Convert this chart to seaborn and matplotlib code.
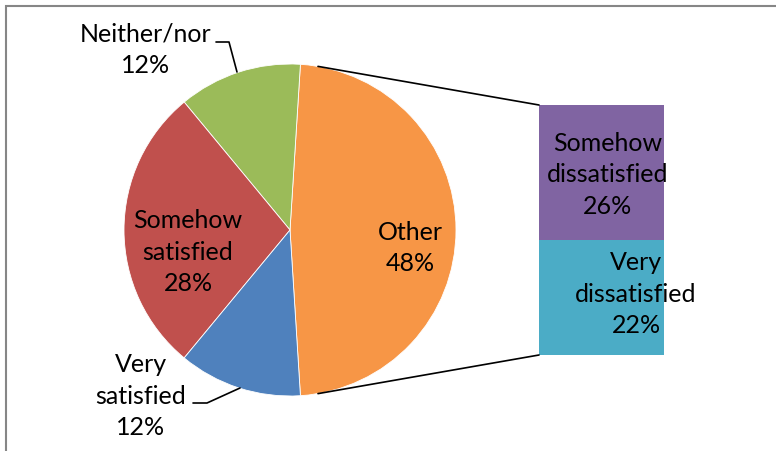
import numpy as np
import matplotlib
matplotlib.use("Agg")
import matplotlib.pyplot as plt
import seaborn as sns
from matplotlib.patches import Rectangle

# Pie data (Other = sum of the bar pieces)
pie_labels = ["Other", "Neither/nor", "Somehow\nsatisfied", "Very\nsatisfied"]
pie_values = [48, 12, 28, 12]
pie_colors = ["#F79646", "#9BBB59", "#C0504D", "#4F81BD"]

# Bar-of-pie data (bottom to top)
bar_labels = ["Very\ndissatisfied", "Somehow\ndissatisfied"]
bar_values = [22, 26]
bar_colors = ["#4BACC6", "#8064A2"]

sns.set_theme(style="white")
plt.rcParams['font.family'] = ['Lato', 'DejaVu Sans']

fig = plt.figure(figsize=(7.76, 4.51), dpi=100)
ax = fig.add_axes([0, 0, 1, 1])

# pie
cx, cy, r = 290, 221, 166
start = -pie_values[0] / 100 * 360 / 2
ax.pie(pie_values, colors=pie_colors, startangle=start, counterclock=True,
       center=(cx, cy), radius=r, frame=True,
       wedgeprops=dict(edgecolor='white', linewidth=0.6))
ax.set_xlim(0, 776)
ax.set_ylim(0, 451)
ax.set_aspect('equal')
ax.axis('off')

# stacked bar
scale = 250 / sum(bar_values)
bar_left, bar_w, bar_bottom = 539, 125, 96
bottom = bar_bottom
for v, c in zip(bar_values, bar_colors):
    ax.bar(bar_left + bar_w / 2, v * scale, width=bar_w, bottom=bottom,
           color=c, edgecolor='none')
    bottom += v * scale

# connector lines
a = np.deg2rad(80.3)
top_bar = bar_bottom + sum(bar_values) * scale
ax.plot([cx + r * np.cos(a), bar_left], [cy + r * np.sin(a), top_bar],
        color='black', lw=1.2)
ax.plot([cx + r * np.cos(a), bar_left], [cy - r * np.sin(a), bar_bottom],
        color='black', lw=1.2)

fs = 18
def lab(x, y, name, val):
    ax.text(x, y, f"{name}\n{val}%", ha='center', va='center',
            multialignment='center', fontsize=fs, color='black',
            linespacing=1.45)

lab(410, 203, pie_labels[0], pie_values[0])
lab(146, 401, pie_labels[1], pie_values[1])
lab(188, 199, pie_labels[2], pie_values[2])
lab(141, 55, pie_labels[3], pie_values[3])
lab(636, 157, bar_labels[0], bar_values[0])
lab(608, 276, bar_labels[1], bar_values[1])

# leader lines
ax.plot([216, 229, 237], [409, 409, 379], color='black', lw=1.2)
ax.plot([193, 207, 240], [48, 48, 63], color='black', lw=1.2)

# chart area border (cropped on the right and bottom)
fig.patches.append(Rectangle((5.5 / 776, -0.1), 1.2, 1.1 - 5.5 / 451,
                             transform=fig.transFigure, fill=False,
                             edgecolor='#868686', linewidth=1.5))

fig.savefig("out.png", dpi=100)
